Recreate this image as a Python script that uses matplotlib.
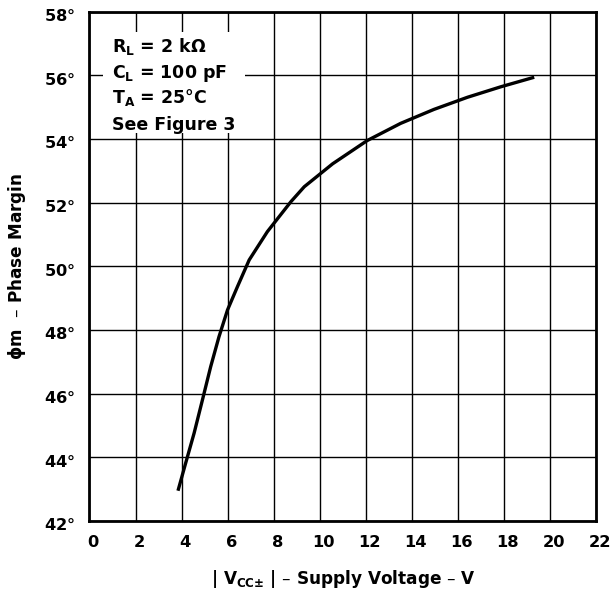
import matplotlib
matplotlib.use("Agg")
import matplotlib.pyplot as plt
import matplotlib.transforms as mtransforms
from matplotlib.patches import Rectangle

plt.rcParams['font.family'] = ['DejaVu Sans']
plt.rcParams['font.weight'] = 'bold'
plt.rcParams['mathtext.fontset'] = 'dejavusans'
plt.rcParams['mathtext.default'] = 'bf'

DEG = r"$\mathrm{°}$"

# Data
supply_v = [3.84, 4.17, 4.54, 4.90, 5.26, 5.62, 5.99, 6.42, 6.93, 7.72, 8.74,
            9.32, 10.55, 12.05, 13.5, 14.95, 16.4, 17.85, 19.3]
phase_margin = [42.95, 43.81, 44.76, 45.80, 46.85, 47.79, 48.63, 49.36, 50.2,
                51.09, 52.03, 52.5, 53.22, 53.95, 54.49, 54.93, 55.31, 55.64, 55.94]
x_ticks = list(range(0, 23, 2))
y_ticks = list(range(42, 59, 2))
y_tick_labels = [f"{v}" + DEG for v in y_ticks]
notes = ["R$_{L}$ = 2 kΩ", "C$_{L}$ = 100 pF", "T$_{A}$ = 25" + DEG + "C",
         "See Figure 3"]

fig = plt.figure(figsize=(6.13, 5.95), dpi=100)
ax = fig.add_axes([0.146, 0.1244, 0.827, 0.856])

ax.set_xlim(0, 22)
ax.set_ylim(42, 58)
ax.set_xticks(x_ticks)
ax.set_yticks(y_ticks)
ax.set_yticklabels(y_tick_labels)
ax.tick_params(length=0, labelsize=11.7, pad=10)
for lab in ax.get_xticklabels() + ax.get_yticklabels():
    lab.set_fontweight('bold')

# small offsets so labels sit as in the reference
xoff = mtransforms.ScaledTranslation(3.5 / 100, 0, fig.dpi_scale_trans)
yoff = mtransforms.ScaledTranslation(0, -3 / 100, fig.dpi_scale_trans)
for lab in ax.get_xticklabels():
    lab.set_transform(lab.get_transform() + xoff)
for lab in ax.get_yticklabels():
    lab.set_transform(lab.get_transform() + yoff)

ax.grid(True, color='black', linewidth=1.0, zorder=0)
ax.set_axisbelow(True)
for s in ax.spines.values():
    s.set_linewidth(2.0)
    s.set_zorder(5)

# white box behind notes
ax.add_patch(Rectangle((0.59, 54.19), 6.17, 3.17, facecolor='white',
                       edgecolor='none', zorder=1))

ax.plot(supply_v, phase_margin, color='black', linewidth=2.4, zorder=3,
        solid_capstyle='butt')

ytxt = [56.74, 55.91, 55.12, 54.28]
for t, yy in zip(notes, ytxt):
    ax.text(0.97, yy, t, fontsize=12.5, fontweight='bold', va='baseline',
            ha='left', zorder=4)

ax.set_xlabel(r"| V$_{CC\mathrm{\pm}}$ | – Supply Voltage – V", fontsize=12.2,
              fontweight='bold', labelpad=13)
ax.set_ylabel(r"$\mathrm{ϕ}$m  – Phase Margin", fontsize=12.2, fontweight='bold',
              labelpad=12)

fig.savefig("out.png", dpi=100)
